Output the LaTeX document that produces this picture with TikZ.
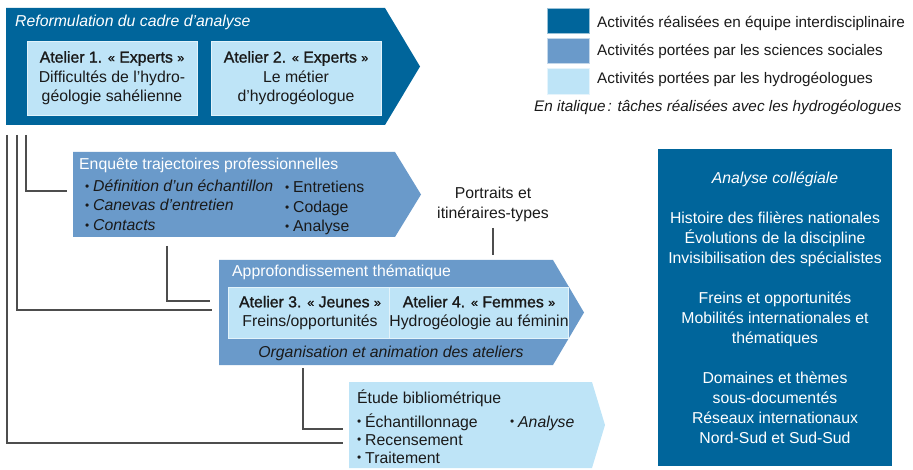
\documentclass[tikz,border=0pt]{standalone}
\usepackage{fontspec}
\setmainfont{Liberation Sans}
\newfontface\medfont{Liberation Sans}[FakeBold=1.4]
\usetikzlibrary{calc}
\definecolor{cdark}{HTML}{00659B}
\definecolor{cmed}{HTML}{6A9ACA}
\definecolor{clight}{HTML}{BEE4F7}
\definecolor{cline}{HTML}{4D4D4D}
\definecolor{ctext}{HTML}{1A1A1A}
\newcommand{\fs}{\fontsize{15.8}{19.5}\selectfont}
\newcommand{\fl}{\fontsize{15.3}{19.5}\selectfont}
\newcommand{\bul}{\makebox[8pt][l]{\raisebox{0.2ex}{\scalebox{0.75}{\textbullet}}}}
\newcommand{\gl}{\raisebox{0.6pt}{\fontsize{12.5}{12.5}\selectfont«}~}
\newcommand{\gr}{~\raisebox{0.6pt}{\fontsize{12.5}{12.5}\selectfont»}}
\tikzset{
  wtxt/.style={font=\fs, text=white, inner sep=0pt},
  dtxt/.style={font=\fs, text=ctext, inner sep=0pt},
  ltxt/.style={font=\fl, text=ctext, inner sep=0pt},
  conn/.style={draw=cline, line width=1.1pt},
  inbox/.style={fill=clight, draw=white!55!clight, line width=0.8pt, inner sep=0pt, align=center, font=\fs, text=ctext},
  legsq/.style={fill=#1, draw=white!60!#1, line width=0.8pt, minimum width=42pt, minimum height=25pt, inner sep=0pt},
}
\begin{document}
\begin{tikzpicture}[x=1pt,y=-1pt]
\useasboundingbox (0,0) rectangle (913,470);
% ---- arrows
\fill[cdark] (6,8) coordinate (a1nw) -- (385,8) -- (420,66.5) coordinate (a1tip) -- (385,125) -- (6,125) coordinate (a1sw) -- cycle;
\fill[cmed] (73,152) coordinate (a2nw) -- (395,152) -- (421,194.5) coordinate (a2tip) -- (395,237) -- (73,237) coordinate (a2sw) -- cycle;
\fill[cmed] (219,260) coordinate (a3nw) -- (553,260) -- (584,312.5) coordinate (a3tip) -- (553,365) -- (219,365) coordinate (a3sw) -- cycle;
\fill[clight] (349,382) coordinate (a4nw) -- (592,382) -- (605,425) coordinate (a4tip) -- (592,468) -- (349,468) coordinate (a4sw) -- cycle;

% ---- arrow 1 content
\node[wtxt, font=\fs\itshape, anchor=base west] (t1) at (15,27) {Reformulation du cadre d’analyse};
\node[inbox, minimum width=170pt, minimum height=74pt] (w1) at (112,78)
  {{\medfont Atelier 1. \gl Experts\gr}\\Difficultés de l’hydro-\\géologie sahélienne};
\node[inbox, minimum width=170pt, minimum height=74pt] (w2) at (296,78)
  {{\medfont Atelier 2. \gl Experts\gr}\\Le métier\\d’hydrogéologue};

% ---- arrow 2 content
\node[wtxt, anchor=base west] (t2) at (79,170) {Enquête trajectoires professionnelles};
\node[dtxt, anchor=base west] (b21) at (85,192) {\bul\textit{Définition d’un échantillon}};
\node[dtxt, anchor=base west] (b22) at (85,211) {\bul\textit{Canevas d’entretien}};
\node[dtxt, anchor=base west] (b23) at (85,231) {\bul\textit{Contacts}};
\node[dtxt, anchor=base west] (b24) at (285,193) {\bul Entretiens};
\node[dtxt, anchor=base west] (b25) at (285,213) {\bul Codage};
\node[dtxt, anchor=base west] (b26) at (285,232) {\bul Analyse};

% ---- portraits
\node[dtxt, anchor=base] (p1) at (493,199) {Portraits et};
\node[dtxt, anchor=base] (p2) at (493,219) {itinéraires-types};

% ---- arrow 3 content
\node[wtxt, anchor=base west] (t3) at (232,277) {Approfondissement thématique};
\node[inbox, minimum width=164pt, minimum height=51pt] (w3) at (310,313)
  {{\medfont Atelier 3. \gl Jeunes\gr}\\Freins/opportunités};
\node[inbox, minimum width=164pt, minimum height=51pt] (w4) at (479,313)
  {{\medfont Atelier 4. \gl Femmes\gr}\\Hydrogéologie au féminin};
\node[dtxt, font=\fs\itshape, anchor=base] (o3) at (391,357) {Organisation et animation des ateliers};

% ---- arrow 4 content
\node[dtxt, anchor=base west] (t4) at (357,403) {Étude bibliométrique};
\node[dtxt, anchor=base west] (b41) at (357,427) {\bul Échantillonnage};
\node[dtxt, anchor=base west] (b42) at (357,445) {\bul Recensement};
\node[dtxt, anchor=base west] (b43) at (357,463) {\bul Traitement};
\node[dtxt, anchor=base west] (b44) at (510,427) {\bul\textit{Analyse}};

% ---- right box
\node[fill=cdark, minimum width=234pt, minimum height=317pt, inner sep=0pt, align=center,
      font=\fontsize{15.8}{20}\selectfont, text=white] (rb) at (775,307.5)
  {\textit{Analyse collégiale}\\[20pt]
   Histoire des filières nationales\\Évolutions de la discipline\\Invisibilisation des spécialistes\\[20pt]
   Freins et opportunités\\Mobilités internationales et\\thématiques\\[20pt]
   Domaines et thèmes\\sous-documentés\\Réseaux internationaux\\Nord-Sud et Sud-Sud};

% ---- legend
\node[legsq=cdark] (l1) at (568,20.5) {};
\node[legsq=cmed] (l2) at (568,50.5) {};
\node[legsq=clight, minimum height=26pt] (l3) at (568,81) {};
\node[ltxt, anchor=base west] (lt1) at (597,28) {Activités réalisées en équipe interdisciplinaire};
\node[ltxt, anchor=base west] (lt2) at (597,55.5) {Activités portées par les sciences sociales};
\node[ltxt, anchor=base west] (lt3) at (597,83.5) {Activités portées par les hydrogéologues};
\node[ltxt, font=\fl\itshape, anchor=base west] (lt4) at (534,112) {En italique\kern2pt: tâches réalisées avec les hydrogéologues};

% ---- connectors
\coordinate (c1s) at (7,135);   \coordinate (c1e) at (343,443);
\coordinate (c2s) at (17,135);  \coordinate (c2e) at (212,310);
\coordinate (c3s) at (26,135);  \coordinate (c3e) at (67,191);
\coordinate (c4s) at (167,246); \coordinate (c4e) at (210,301);
\coordinate (c5s) at (303,368); \coordinate (c5e) at (343,429);
\coordinate (c6s) at (493,228); \coordinate (c6e) at (493,255);
\draw[conn] (c1s) |- (c1e);
\draw[conn] (c2s) |- (c2e);
\draw[conn] (c3s) |- (c3e);
\draw[conn] (c4s) |- (c4e);
\draw[conn] (c5s) |- (c5e);
\draw[conn] (c6s) -- (c6e);
\end{tikzpicture}
\end{document}
